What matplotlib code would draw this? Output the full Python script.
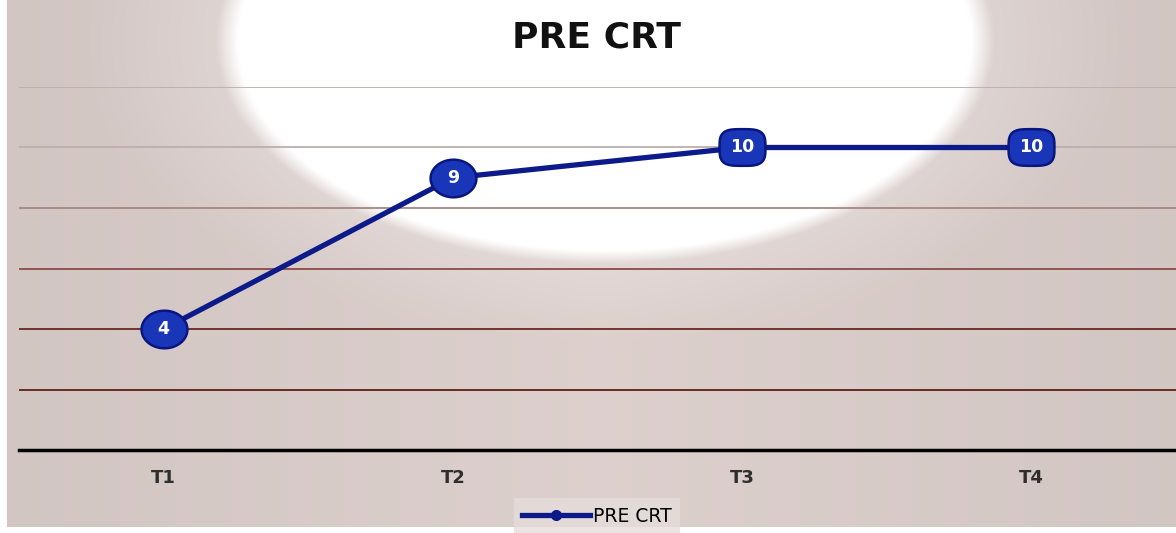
import matplotlib.pyplot as plt
from matplotlib.path import Path
import numpy as np

categories = ['T1', 'T2', 'T3', 'T4']
pre_crt = [4, 9, 10, 10]
grid_levels = [2, 4, 6, 8, 10, 12]
grid_colors = ['#5e1e18', '#6a2820', '#8a4c44', '#a48884', '#bcaeac', '#bab0ae']

W, H = 1176, 533
fig = plt.figure(figsize=(W / 100, H / 100), dpi=100)
fig.patch.set_facecolor('white')

# background: pinkish-grey gradient with a white glow at the top
bg = fig.add_axes([7 / W, 6 / H, 1 - 7 / W, 1 - 6 / H])
bg.axis('off')
xx, yy = np.meshgrid(np.linspace(7, W, 600), np.linspace(0, 527, 300))
base = np.array([0.865, 0.815, 0.805])
edge = np.clip(1 - np.abs(xx - 600) / 620, 0, 1)
shade = 0.95 + 0.05 * edge
img = base[None, None, :] * shade[..., None]
r = np.sqrt(((xx - 605) / 375) ** 2 + ((yy - 40) / 215) ** 2)
halo = np.clip((1.4 - r) / 0.4, 0, 1) * 0.2
glow = np.clip((1.04 - r) / 0.06, 0, 1)
img = img * (1 - halo[..., None]) + halo[..., None]
img = img * (1 - glow[..., None]) + glow[..., None]
bg.imshow(np.clip(img, 0, 1), aspect='auto', extent=[0, 1, 0, 1], origin='upper')
bg.set_xlim(0, 1)
bg.set_ylim(0, 1)

ax = fig.add_axes([19 / W, (H - 450) / H, (W - 19) / W, (450 - 87) / H])
ax.patch.set_alpha(0)
x = np.arange(len(categories))
vals = np.array(pre_crt)
ax.set_xlim(-0.5, len(categories) - 0.5)
ax.set_ylim(0, 12)

for lvl, c in zip(grid_levels, grid_colors):
    ax.axhline(lvl, color=c, lw=1.3, zorder=1)

for s in ['top', 'right', 'left']:
    ax.spines[s].set_visible(False)
ax.spines['bottom'].set_color('black')
ax.spines['bottom'].set_linewidth(2.5)
ax.set_yticks([])
ax.set_xticks(x)
ax.set_xticklabels(categories, fontsize=13, fontweight='bold', color='#2e2e2e')
ax.tick_params(axis='x', length=0, pad=14)

line_col = '#0c1a8a'
ax.plot(x, vals, color=line_col, lw=3.8, marker='o', markersize=7,
        markerfacecolor=line_col, label='PRE CRT', zorder=3, clip_on=False)


def blob(n, a=1.0, b=0.8):
    # superellipse outline used as label shape
    t = np.linspace(0, 2 * np.pi, 80)
    px = a * np.sign(np.cos(t)) * np.abs(np.cos(t)) ** (2 / n)
    py = b * np.sign(np.sin(t)) * np.abs(np.sin(t)) ** (2 / n)
    return Path(np.column_stack([px, py]), closed=True)


small = vals < 10
ax.plot(x[small], vals[small], ls='none', marker=blob(2, 1, 0.82), ms=33,
        mfc='#1a36b8', mec='#0a1680', mew=1.8, zorder=4, clip_on=False)
ax.plot(x[~small], vals[~small], ls='none', marker=blob(3.5, 1, 0.8), ms=33,
        mfc='#1a36b8', mec='#0a1680', mew=1.8, zorder=4, clip_on=False)

for xi, v in zip(x, vals):
    ax.text(xi, v, str(v), ha='center', va='center', fontsize=12.5,
            fontweight='bold', color='white', zorder=5)

fig.text(597 / W, 1 - 37 / H, 'PRE CRT', ha='center', va='center',
         fontsize=26, fontweight='bold', color='#111111')

leg = fig.legend(loc='center', bbox_to_anchor=(597 / W, 1 - 516 / H),
                 frameon=True, fontsize=13.5, handlelength=3.6, borderpad=0.3,
                 handletextpad=0.2, borderaxespad=0, fancybox=False)
leg.get_frame().set_facecolor('#e6dedc')
leg.get_frame().set_edgecolor('none')
leg.get_frame().set_boxstyle('square', pad=0.15)

fig.savefig('out.png', dpi=100, facecolor='white')
